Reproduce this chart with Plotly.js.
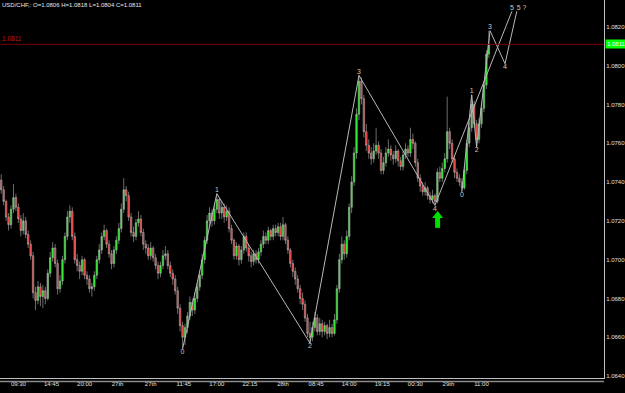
<!DOCTYPE html>
<html>
<head>
<meta charset="utf-8">
<script src="https://cdn.plot.ly/plotly-3.0.1.min.js"></script>
<style>
html,body{margin:0;padding:0;background:#000;}
#chart{width:625px;height:393px;}
</style>
</head>
<body>
<div id="chart"></div>
<script>
// ---- data ----
const symbolTitle = "USD/CHF,: O=1.0806 H=1.0818 L=1.0804 C=1.0811";
const currentPrice = 1.0811;

const openP = [
1.0741,1.0736,1.0730,1.0722,1.0718,1.0726,1.0732,1.0727,1.0721,1.0715,
1.0720,1.0713,1.0708,1.0702,1.0683,1.0679,1.0686,1.0681,1.0684,1.0680,
1.0693,1.0701,1.0706,1.0698,1.0685,1.0689,1.0700,1.0712,1.0722,1.0725,
1.0712,1.0700,1.0697,1.0694,1.0700,1.0692,1.0690,1.0685,1.0686,1.0692,
1.0700,1.0705,1.0712,1.0715,1.0708,1.0703,1.0698,1.0705,1.0710,1.0716,
1.0726,1.0736,1.0733,1.0722,1.0714,1.0712,1.0719,1.0721,1.0714,1.0708,
1.0706,1.0702,1.0706,1.0701,1.0697,1.0693,1.0697,1.0702,1.0703,1.0697,
1.0693,1.0690,1.0684,1.0675,1.0666,1.0660,1.0665,1.0671,1.0678,1.0674,
1.0680,1.0686,1.0692,1.0700,1.0710,1.0720,1.0724,1.0720,1.0726,1.0731,
1.0724,1.0727,1.0722,1.0725,1.0716,1.0710,1.0702,1.0707,1.0700,1.0705,
1.0712,1.0706,1.0702,1.0699,1.0703,1.0700,1.0704,1.0708,1.0712,1.0710,
1.0715,1.0712,1.0716,1.0714,1.0717,1.0712,1.0718,1.0710,1.0705,1.0698,
1.0694,1.0690,1.0685,1.0680,1.0677,1.0670,1.0662,1.0660,1.0665,1.0670,
1.0663,1.0667,1.0663,1.0666,1.0662,1.0665,1.0662,1.0669,1.0685,1.0700,
1.0708,1.0703,1.0712,1.0727,1.0740,1.0755,1.0775,1.0792,1.0783,1.0766,
1.0759,1.0755,1.0752,1.0756,1.0759,1.0755,1.0746,1.0750,1.0755,1.0757,
1.0754,1.0752,1.0756,1.0751,1.0748,1.0754,1.0757,1.0755,1.0762,1.0760,
1.0750,1.0742,1.0738,1.0735,1.0737,1.0733,1.0731,1.0733,1.0730,1.0745,
1.0742,1.0747,1.0752,1.0766,1.0760,1.0752,1.0745,1.0742,1.0740,1.0737,
1.0746,1.0760,1.0768,1.0780,1.0770,1.0762,1.0770,1.0778,1.0790,1.0806
];
const highP = [
1.0744,1.0738,1.0731,1.0724,1.0728,1.0739,1.0734,1.0729,1.0723,1.0724,
1.0722,1.0715,1.0710,1.0704,1.0686,1.0689,1.0688,1.0687,1.0686,1.0695,
1.0704,1.0709,1.0708,1.0700,1.0692,1.0702,1.0714,1.0725,1.0728,1.0727,
1.0714,1.0703,1.0699,1.0702,1.0701,1.0694,1.0692,1.0688,1.0694,1.0702,
1.0708,1.0714,1.0718,1.0716,1.0710,1.0705,1.0707,1.0712,1.0719,1.0729,
1.0742,1.0738,1.0735,1.0724,1.0717,1.0721,1.0725,1.0723,1.0716,1.0710,
1.0708,1.0709,1.0707,1.0703,1.0699,1.0699,1.0705,1.0707,1.0705,1.0699,
1.0695,1.0692,1.0686,1.0677,1.0668,1.0667,1.0673,1.0681,1.0680,1.0683,
1.0688,1.0694,1.0703,1.0712,1.0723,1.0727,1.0726,1.0729,1.0734,1.0732,
1.0730,1.0729,1.0728,1.0727,1.0718,1.0711,1.0709,1.0708,1.0707,1.0714,
1.0714,1.0708,1.0704,1.0705,1.0705,1.0706,1.0710,1.0715,1.0714,1.0717,
1.0716,1.0718,1.0718,1.0719,1.0719,1.0722,1.0719,1.0712,1.0706,1.0700,
1.0696,1.0692,1.0687,1.0683,1.0679,1.0672,1.0668,1.0668,1.0673,1.0672,
1.0670,1.0669,1.0668,1.0667,1.0669,1.0667,1.0672,1.0687,1.0703,1.0712,
1.0710,1.0715,1.0729,1.0743,1.0758,1.0778,1.0795,1.0794,1.0785,1.0770,
1.0762,1.0758,1.0760,1.0768,1.0761,1.0757,1.0753,1.0758,1.0762,1.0759,
1.0756,1.0759,1.0757,1.0753,1.0756,1.0760,1.0759,1.0768,1.0765,1.0761,
1.0752,1.0744,1.0740,1.0740,1.0738,1.0735,1.0736,1.0734,1.0747,1.0748,
1.0750,1.0755,1.0784,1.0768,1.0762,1.0754,1.0747,1.0744,1.0742,1.0748,
1.0762,1.0771,1.0785,1.0782,1.0772,1.0773,1.0781,1.0792,1.0808,1.0818
];
const lowP = [
1.0734,1.0728,1.0720,1.0715,1.0716,1.0724,1.0725,1.0719,1.0712,1.0713,
1.0711,1.0706,1.0700,1.0680,1.0674,1.0677,1.0676,1.0675,1.0677,1.0679,
1.0691,1.0699,1.0696,1.0682,1.0683,1.0687,1.0698,1.0710,1.0719,1.0710,
1.0698,1.0694,1.0690,1.0692,1.0690,1.0687,1.0683,1.0681,1.0684,1.0690,
1.0698,1.0703,1.0710,1.0706,1.0701,1.0695,1.0696,1.0703,1.0708,1.0714,
1.0724,1.0730,1.0720,1.0712,1.0709,1.0710,1.0717,1.0712,1.0705,1.0703,
1.0700,1.0700,1.0699,1.0695,1.0690,1.0691,1.0695,1.0700,1.0695,1.0691,
1.0687,1.0682,1.0672,1.0663,1.0654,1.0656,1.0662,1.0669,1.0671,1.0672,
1.0678,1.0684,1.0690,1.0698,1.0708,1.0717,1.0717,1.0718,1.0724,1.0721,
1.0721,1.0719,1.0720,1.0714,1.0708,1.0700,1.0700,1.0697,1.0698,1.0703,
1.0704,1.0699,1.0696,1.0697,1.0698,1.0698,1.0702,1.0706,1.0708,1.0708,
1.0710,1.0710,1.0712,1.0712,1.0710,1.0710,1.0708,1.0703,1.0696,1.0691,
1.0687,1.0683,1.0677,1.0674,1.0668,1.0660,1.0657,1.0658,1.0663,1.0661,
1.0661,1.0660,1.0661,1.0659,1.0660,1.0660,1.0661,1.0667,1.0683,1.0698,
1.0700,1.0701,1.0710,1.0724,1.0738,1.0752,1.0772,1.0780,1.0763,1.0756,
1.0752,1.0749,1.0750,1.0754,1.0752,1.0744,1.0744,1.0748,1.0753,1.0751,
1.0749,1.0750,1.0748,1.0746,1.0746,1.0752,1.0753,1.0753,1.0757,1.0748,
1.0740,1.0735,1.0733,1.0733,1.0731,1.0729,1.0729,1.0728,1.0729,1.0740,
1.0740,1.0745,1.0750,1.0757,1.0750,1.0742,1.0740,1.0738,1.0735,1.0736,
1.0744,1.0758,1.0766,1.0768,1.0758,1.0760,1.0768,1.0776,1.0788,1.0804
];
const closeP = [
1.0736,1.0730,1.0722,1.0718,1.0726,1.0732,1.0727,1.0721,1.0715,1.0720,
1.0713,1.0708,1.0702,1.0683,1.0679,1.0686,1.0681,1.0684,1.0680,1.0693,
1.0701,1.0706,1.0698,1.0685,1.0689,1.0700,1.0712,1.0722,1.0725,1.0712,
1.0700,1.0697,1.0694,1.0700,1.0692,1.0690,1.0685,1.0686,1.0692,1.0700,
1.0705,1.0712,1.0715,1.0708,1.0703,1.0698,1.0705,1.0710,1.0716,1.0726,
1.0736,1.0733,1.0722,1.0714,1.0712,1.0719,1.0721,1.0714,1.0708,1.0706,
1.0702,1.0706,1.0701,1.0697,1.0693,1.0697,1.0702,1.0703,1.0697,1.0693,
1.0690,1.0684,1.0675,1.0666,1.0660,1.0665,1.0671,1.0678,1.0674,1.0680,
1.0686,1.0692,1.0700,1.0710,1.0720,1.0724,1.0720,1.0726,1.0731,1.0724,
1.0727,1.0722,1.0725,1.0716,1.0710,1.0702,1.0707,1.0700,1.0705,1.0712,
1.0706,1.0702,1.0699,1.0703,1.0700,1.0704,1.0708,1.0712,1.0710,1.0715,
1.0712,1.0716,1.0714,1.0717,1.0712,1.0718,1.0710,1.0705,1.0698,1.0694,
1.0690,1.0685,1.0680,1.0677,1.0670,1.0662,1.0660,1.0665,1.0670,1.0663,
1.0667,1.0663,1.0666,1.0662,1.0665,1.0662,1.0669,1.0685,1.0700,1.0708,
1.0703,1.0712,1.0727,1.0740,1.0755,1.0775,1.0792,1.0783,1.0766,1.0759,
1.0755,1.0752,1.0756,1.0759,1.0755,1.0746,1.0750,1.0755,1.0757,1.0754,
1.0752,1.0756,1.0751,1.0748,1.0754,1.0757,1.0755,1.0762,1.0760,1.0750,
1.0742,1.0738,1.0735,1.0737,1.0733,1.0731,1.0733,1.0730,1.0745,1.0742,
1.0747,1.0752,1.0766,1.0760,1.0752,1.0745,1.0742,1.0740,1.0737,1.0746,
1.0760,1.0768,1.0780,1.0770,1.0762,1.0770,1.0778,1.0790,1.0806,1.0811
];

// time-axis labels (bar index where each label sits)
const tickIdx = [7, 20.5, 34, 47.5, 61, 74.5, 88, 101.5, 115, 128.5, 142, 155.5, 169, 182.5, 196];
const tickLbl = ["09:30","14:45","20:00","27th","27th","11:45","17:00","22:15","28th","08:45","14:00","19:15","00:30","29th","11:00"];

// wave counts drawn on the chart
const mainWaveIdx = [74, 88, 126, 146, 177, 208.4];
const mainWaveP   = [1.0654, 1.0734, 1.0657, 1.0795, 1.0728, 1.0828];
const mainWaveLbl = ["0","1","2","3","4","5"];
const subWaveIdx  = [188, 192, 194, 199.5, 205.6, 210.4];
const subWaveP    = [1.0735, 1.0785, 1.0758, 1.0818, 1.0801, 1.0828];
const subWaveLbl  = ["0","1","2","3","4","5 ?"];

// green "buy" arrow: head and shaft
const arrowHeadIdx = [178.1];
const arrowHeadP   = [1.07227];
const arrowShaftIdx = [178.1, 178.1];
const arrowShaftP   = [1.07218, 1.07164];

// ---- drawing ----
const xIdx = closeP.map((_, i) => i);
const font = 'Liberation Sans, Arial, sans-serif';
const lblPos = ['bottom center','top center','bottom center','top center','bottom center','top center'];
const subPos = ['bottom center','top center','bottom center','top center','bottom center','top right'];

const traces = [
  {
    type: 'candlestick', x: xIdx, open: openP, high: highP, low: lowP, close: closeP,
    increasing: {line: {color: '#b4b4b4', width: 0.6}, fillcolor: '#00ff00'},
    decreasing: {line: {color: '#b4b4b4', width: 0.6}, fillcolor: '#ff2020'},
    whiskerwidth: 0, hoverinfo: 'skip', showlegend: false
  },
  {
    type: 'scatter', mode: 'lines+text', x: mainWaveIdx, y: mainWaveP, text: mainWaveLbl,
    textposition: lblPos, textfont: {family: font, size: 7, color: '#c8c8c8'},
    line: {color: '#b8b8b8', width: 1}, hoverinfo: 'skip', showlegend: false, cliponaxis: false
  },
  {
    type: 'scatter', mode: 'lines+text', x: subWaveIdx, y: subWaveP, text: subWaveLbl,
    textposition: subPos, textfont: {family: font, size: 7, color: '#c8c8c8'},
    line: {color: '#b8b8b8', width: 1}, hoverinfo: 'skip', showlegend: false, cliponaxis: false
  },
  {
    type: 'scatter', mode: 'lines', x: arrowShaftIdx, y: arrowShaftP,
    line: {color: '#00e000', width: 5}, hoverinfo: 'skip', showlegend: false
  },
  {
    type: 'scatter', mode: 'markers', x: arrowHeadIdx, y: arrowHeadP,
    marker: {color: '#00e000', symbol: 'triangle-up', size: 9.5, line: {width: 0}},
    hoverinfo: 'skip', showlegend: false
  }
];

const layout = {
  width: 625, height: 393,
  paper_bgcolor: '#000000', plot_bgcolor: '#000000',
  margin: {l: 0, r: 21, t: 0, b: 15, pad: 0},
  showlegend: false,
  boxgap: 0.15,
  font: {family: font, color: '#e0e0e0', size: 6},
  xaxis: {
    range: [-0.5, 246], showgrid: false, zeroline: false,
    showline: true, linecolor: '#c0c0c0', linewidth: 1,
    tickmode: 'array', tickvals: tickIdx, ticktext: tickLbl, ticks: '',
    tickfont: {family: font, size: 6, color: '#e0e0e0'},
    rangeslider: {visible: false}, fixedrange: true
  },
  yaxis: {
    side: 'right', range: [1.06390, 1.083385], showgrid: false, zeroline: false,
    showline: true, linecolor: '#c0c0c0', linewidth: 1,
    tick0: 1.064, dtick: 0.002, tickformat: '.4f', ticks: '',
    tickfont: {family: font, size: 6, color: '#e0e0e0'}, fixedrange: true
  },
  shapes: [
    {type: 'line', xref: 'paper', x0: 0, x1: 1, yref: 'y', y0: currentPrice, y1: currentPrice,
     line: {color: '#7a0000', width: 1}},
    {type: 'line', xref: 'paper', x0: 0, x1: 1, yref: 'paper', y0: -0.009, y1: -0.009,
     line: {color: '#8a8a8a', width: 1.5}}
  ],
  annotations: [
    {xref: 'paper', yref: 'paper', x: 0, y: 1, xanchor: 'left', yanchor: 'top',
     text: symbolTitle, showarrow: false, font: {family: font, size: 6, color: '#e8e8e8'}},
    {xref: 'paper', yref: 'y', x: 0, y: currentPrice, xanchor: 'left', yanchor: 'bottom',
     text: currentPrice.toFixed(4), showarrow: false, font: {family: font, size: 6.5, color: '#cc1010'}},
    {xref: 'paper', yref: 'y', x: 1, y: currentPrice, xanchor: 'left', yanchor: 'middle', xshift: 1,
     text: currentPrice.toFixed(4), showarrow: false, bgcolor: '#00ff00', borderpad: 1,
     font: {family: font, size: 6, color: '#ffffff'}}
  ]
};

Plotly.newPlot('chart', traces, layout, {staticPlot: true, displayModeBar: false});
</script>
</body>
</html>
